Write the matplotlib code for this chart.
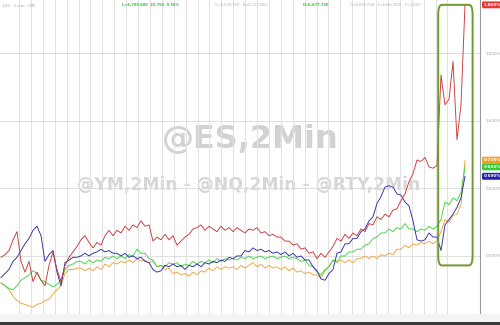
import numpy as np
import matplotlib.pyplot as plt
from matplotlib.patches import FancyBboxPatch, Rectangle

# % change since start, one value every few bars
es_red = [-0.01, 0.01, 0.04, 0.12, 0.18, -0.04, -0.12, -0.04, -0.19, -0.12,
          -0.18, -0.22, -0.07, 0.03, -0.10, -0.19, -0.07, -0.01, 0.03, 0.07,
          0.12, 0.15, 0.10, 0.06, 0.10, 0.08, 0.15, 0.19, 0.15, 0.19,
          0.17, 0.22, 0.19, 0.23, 0.21, 0.26, 0.22, 0.23, 0.11, 0.14,
          0.12, 0.16, 0.12, 0.15, 0.08, 0.11, 0.14, 0.16, 0.20, 0.21,
          0.23, 0.19, 0.22, 0.20, 0.18, 0.22, 0.19, 0.21, 0.18, 0.21,
          0.19, 0.17, 0.20, 0.19, 0.21, 0.17, 0.18, 0.15, 0.16, 0.14,
          0.14, 0.11, 0.11, 0.08, 0.09, 0.05, 0.06, 0.02, 0.03, -0.02,
          0.02, -0.01, 0.03, 0.07, 0.13, 0.11, 0.16, 0.13, 0.17, 0.15,
          0.20, 0.18, 0.24, 0.23, 0.29, 0.27, 0.31, 0.29, 0.34, 0.35,
          0.41, 0.46, 0.55, 0.61, 0.71, 0.70, 0.73, 0.66, 0.65, 0.67,
          1.34, 1.12, 1.16, 1.44, 0.86, 1.12, 1.86]

nq_blue = [-0.16, -0.13, -0.10, -0.04, -0.01, 0.04, 0.09, 0.13, 0.19, 0.22,
           0.15, -0.04, 0.01, 0.04, -0.12, -0.22, -0.05, -0.03, -0.01, -0.01,
           0.00, 0.02, 0.00, 0.02, 0.03, 0.05, 0.03, 0.04, 0.02, 0.02,
           0.00, 0.02, -0.01, 0.00, -0.02, -0.01, -0.04, -0.05, -0.10, -0.12,
           -0.11, -0.07, -0.08, -0.06, -0.08, -0.07, -0.10, -0.07, -0.08, -0.06,
           -0.08, -0.05, -0.06, -0.04, -0.05, -0.03, -0.04, -0.01, -0.02, 0.00,
           0.00, 0.04, 0.03, 0.06, 0.04, 0.05, 0.03, 0.04, 0.02, 0.03,
           0.01, 0.03, 0.00, 0.02, -0.01, 0.00, -0.03, -0.03, -0.08, -0.11,
           -0.17, -0.18, -0.13, -0.10, 0.02, 0.03, 0.09, 0.09, 0.13, 0.13,
           0.18, 0.20, 0.26, 0.29, 0.39, 0.44, 0.51, 0.52, 0.51, 0.46,
           0.45, 0.40, 0.37, 0.26, 0.12, 0.11, 0.12, 0.17, 0.14, 0.14,
           0.04, 0.23, 0.27, 0.31, 0.36, 0.43, 0.59]

ym_green = [-0.20, -0.22, -0.24, -0.25, -0.22, -0.18, -0.16, -0.14, -0.11, -0.13,
            -0.18, -0.19, -0.21, -0.23, -0.21, -0.18, -0.10, -0.07, -0.06, -0.04,
            -0.04, -0.06, -0.03, -0.05, -0.03, -0.04, -0.01, -0.02, 0.00, -0.02,
            0.00, -0.02, 0.01, 0.00, 0.05, 0.02, 0.02, -0.02, -0.03, -0.08,
            -0.07, -0.08, -0.05, -0.06, -0.05, -0.08, -0.06, -0.07, -0.04, -0.06,
            -0.04, -0.05, -0.03, -0.05, -0.02, -0.04, -0.02, -0.03, -0.02, -0.03,
            -0.01, -0.02, 0.00, -0.02, -0.01, 0.00, -0.02, -0.01, 0.00, -0.02,
            -0.01, 0.00, -0.02, -0.01, -0.02, -0.04, -0.03, -0.07, -0.08, -0.12,
            -0.14, -0.10, -0.08, -0.03, -0.04, 0.00, 0.00, 0.03, 0.03, 0.05,
            0.05, 0.08, 0.09, 0.13, 0.14, 0.17, 0.17, 0.20, 0.18, 0.21,
            0.20, 0.24, 0.20, 0.20, 0.18, 0.20, 0.19, 0.22, 0.20, 0.22,
            0.27, 0.40, 0.38, 0.43, 0.41, 0.47, 0.66]

rty_orange = [-0.20, -0.22, -0.25, -0.30, -0.33, -0.35, -0.36, -0.37, -0.38, -0.36,
              -0.35, -0.33, -0.32, -0.28, -0.25, -0.22, -0.13, -0.10, -0.10, -0.09,
              -0.09, -0.11, -0.09, -0.11, -0.08, -0.10, -0.06, -0.08, -0.05, -0.06,
              -0.04, -0.05, -0.03, -0.05, -0.02, -0.04, -0.03, -0.05, -0.04, -0.08,
              -0.07, -0.10, -0.09, -0.13, -0.12, -0.14, -0.13, -0.15, -0.12, -0.14,
              -0.11, -0.12, -0.09, -0.11, -0.08, -0.10, -0.08, -0.09, -0.08, -0.10,
              -0.07, -0.09, -0.07, -0.05, -0.08, -0.06, -0.09, -0.07, -0.09, -0.08,
              -0.10, -0.08, -0.11, -0.09, -0.12, -0.11, -0.13, -0.12, -0.14, -0.14,
              -0.16, -0.11, -0.08, -0.03, -0.05, -0.03, -0.05, -0.03, -0.05, -0.02,
              -0.02, 0.00, -0.02, 0.00, -0.02, 0.01, 0.00, 0.02, 0.01, 0.05,
              0.05, 0.08, 0.06, 0.09, 0.08, 0.10, 0.09, 0.11, 0.09, 0.11,
              0.18, 0.27, 0.25, 0.30, 0.31, 0.38, 0.71]

time_labels = ["12:00", "13:00", "14:00", "15:00", "16:00", "17:00", "18:00",
               "19:00", "20:00", "21:00", "22:00", "23:00", "1/7", "01:00",
               "02:00", "03:00", "04:00", "05:00", "06:00"]
pct_ticks = [0.0, 0.5, 1.0, 1.5]

series = [
    (rty_orange, "#f2a23a", 2),
    (ym_green, "#3fd43f", 3),
    (nq_blue, "#2c2ca6", 4),
    (es_red, "#c93838", 5),
]
label_colors = {"#f2a23a": "#f0a030", "#3fd43f": "#33cc33",
                "#2c2ca6": "#2323a8", "#c93838": "#e23a3a"}

fig = plt.figure(figsize=(5, 3.25), dpi=100)
fig.patch.set_facecolor("white")

# bottom dark bar and time strip
fig.patches.append(Rectangle((0, 0), 1, 3 / 325, transform=fig.transFigure,
                             facecolor="#3a3a3a", edgecolor="none"))
fig.patches.append(Rectangle((0, 3 / 325), 1, 8 / 325, transform=fig.transFigure,
                             facecolor="#f4f4f4", edgecolor="none"))

ax = fig.add_axes([0, 11 / 325, 480 / 500, 314 / 325])
ax.set_xlim(-0.25, 119.75)
ax.set_ylim(-0.43, 1.896)
for s in ["top", "left"]:
    ax.spines[s].set_visible(False)
ax.spines["bottom"].set_color("#555555")
ax.spines["bottom"].set_linewidth(0.6)
ax.spines["right"].set_color("#9a9a9a")
ax.spines["right"].set_linewidth(0.8)

xt = [4.5 + 5.95 * k for k in range(len(time_labels))]
ax.set_xticks(xt)
ax.set_xticklabels(time_labels, fontsize=3, color="#9a9a9a")
ax.set_xticks([p + 2.975 for p in xt[:-1]], minor=True)
ax.tick_params(axis="x", which="both", length=0, pad=1.5)
ax.grid(axis="x", which="both", color="#e2e2e2", linewidth=0.7)

ax.yaxis.tick_right()
ax.set_yticks(pct_ticks)
ax.set_yticklabels([f"{t:.3f}%" for t in pct_ticks], fontsize=3, color="#a0a0a0")
ax.tick_params(axis="y", length=0, pad=4)
ax.grid(axis="y", color="#d9d9d9", linewidth=0.6)

# watermark
ax.text(0.5, 0.57, "@ES,2Min", transform=fig.transFigure, ha="center", va="center",
        fontsize=23, fontweight="bold", color="#d2d2d2", zorder=1)
ax.text(0.497, 0.43, "@YM,2Min - @NQ,2Min - @RTY,2Min", transform=fig.transFigure,
        ha="center", va="center", fontsize=12.3, fontweight="bold",
        color="#d6d6d6", zorder=1)

for vals, col, z in series:
    x = np.arange(len(vals))
    ax.plot(x, vals, color=col, linewidth=0.65, zorder=z)
    ax.annotate(f"{vals[-1]:.3f}%", xy=(1, vals[-1]),
                xycoords=("axes fraction", "data"), xytext=(2.5, 0),
                textcoords="offset points", va="center", ha="left",
                fontsize=3, color="white", fontweight="bold", annotation_clip=False,
                bbox=dict(boxstyle="round,pad=0.35", fc=label_colors[col], ec="none"))

# highlight box around the last bars
box = FancyBboxPatch((109.3, -0.07), 8.6, 1.93,
                     boxstyle="round,pad=0,rounding_size=0.9",
                     fill=False, edgecolor="#6e9a2e", linewidth=1.4, zorder=6,
                     mutation_aspect=0.08)
ax.add_patch(box)

# header line with quote text
fig.text(0.004, 0.99, "@ES - 2 min - CME", fontsize=2.6, color="#aaaaaa", va="top")
fig.text(0.245, 0.99, "L=6,709.000  33.750  0.50%", fontsize=2.6,
         color="#3cb83c", va="top", fontweight="bold")
fig.text(0.43, 0.99, "O=6,679.750   H=6,712.000", fontsize=2.6,
         color="#aaaaaa", va="top")
fig.text(0.605, 0.99, "O=6,677.750", fontsize=2.6, color="#3cb83c", va="top",
         fontweight="bold")
fig.text(0.70, 0.99, "H=6,696.000   L=6,667.000   V=3,001", fontsize=2.6,
         color="#aaaaaa", va="top")

fig.savefig("out.png", dpi=100)
